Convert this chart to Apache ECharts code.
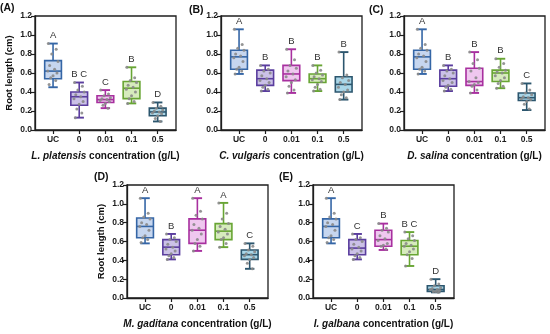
<!DOCTYPE html>
<html>
<head>
<meta charset="utf-8">
<script src="https://cdn.jsdelivr.net/npm/echarts@6/dist/echarts.min.js"></script>
<style>
html,body{margin:0;padding:0;background:#fff;}
#chart{width:550px;height:334px;}
</style>
</head>
<body>
<div id="chart"></div>
<script>
// ---- data ----
const categories = ['UC', '0', '0.01', '0.1', '0.5'];
const species = ['L. platensis', 'C. vulgaris', 'D. salina', 'M. gaditana', 'I. galbana'];
const panelTags = ['(A)', '(B)', '(C)', '(D)', '(E)'];
const yAxisTitle = 'Root length (cm)';

// box stats per category: [min, q1, median, q3, max]
const boxA = [[0.45,0.54,0.62,0.73,0.91],[0.13,0.26,0.35,0.40,0.50],[0.23,0.29,0.32,0.36,0.42],[0.28,0.33,0.44,0.51,0.66],[0.09,0.15,0.19,0.23,0.29]];
const boxB = [[0.59,0.64,0.77,0.84,1.06],[0.41,0.47,0.54,0.63,0.68],[0.39,0.52,0.59,0.68,0.85],[0.41,0.50,0.54,0.59,0.68],[0.32,0.40,0.48,0.56,0.82]];
const boxC = [[0.59,0.64,0.77,0.84,1.06],[0.41,0.46,0.54,0.63,0.68],[0.39,0.47,0.51,0.65,0.82],[0.44,0.51,0.60,0.63,0.75],[0.21,0.31,0.34,0.39,0.49]];
const boxD = [[0.58,0.64,0.76,0.85,1.06],[0.41,0.46,0.54,0.62,0.68],[0.50,0.58,0.72,0.84,1.06],[0.54,0.62,0.71,0.79,1.01],[0.31,0.41,0.46,0.51,0.58]];
const boxE = [[0.58,0.64,0.76,0.84,1.06],[0.41,0.46,0.53,0.62,0.68],[0.51,0.55,0.62,0.72,0.79],[0.34,0.46,0.55,0.61,0.70],[0.06,0.07,0.09,0.13,0.20]];

// significance letters
const lettersA = ['A', 'B C', 'C', 'B', 'D'];
const lettersB = ['A', 'B', 'B', 'B', 'B'];
const lettersC = ['A', 'B', 'B', 'B', 'C'];
const lettersD = ['A', 'B', 'A', 'A', 'C'];
const lettersE = ['A', 'C', 'B', 'B C', 'D'];

// individual observations
const ucPoints = [1.06,0.90,0.86,0.84,0.80,0.78,0.76,0.72,0.66,0.64,0.62,0.59];
const zeroPoints = [0.68,0.64,0.62,0.60,0.57,0.54,0.52,0.50,0.47,0.45,0.43,0.41];
const dotsA = [
  [0.91,0.85,0.80,0.72,0.68,0.64,0.62,0.60,0.57,0.55,0.52,0.48],
  [0.50,0.46,0.42,0.40,0.37,0.35,0.33,0.30,0.27,0.22,0.18,0.13],
  [0.42,0.38,0.36,0.34,0.33,0.32,0.31,0.30,0.28,0.26,0.23],
  [0.66,0.55,0.52,0.50,0.47,0.45,0.43,0.40,0.36,0.33,0.30,0.28],
  [0.29,0.25,0.23,0.21,0.20,0.19,0.18,0.17,0.15,0.12,0.09]
];
const dotsB = [
  ucPoints, zeroPoints,
  [0.85,0.74,0.68,0.65,0.62,0.59,0.56,0.53,0.50,0.46,0.42,0.39],
  [0.68,0.63,0.60,0.58,0.56,0.54,0.53,0.51,0.48,0.45,0.43,0.41],
  [0.82,0.58,0.55,0.52,0.50,0.48,0.45,0.42,0.40,0.37,0.34,0.32]
];
const dotsC = [
  ucPoints, zeroPoints,
  [0.82,0.74,0.70,0.65,0.62,0.55,0.51,0.50,0.48,0.46,0.42,0.39],
  [0.75,0.70,0.66,0.63,0.61,0.60,0.57,0.55,0.52,0.49,0.46,0.44],
  [0.49,0.42,0.39,0.37,0.35,0.34,0.33,0.32,0.30,0.27,0.22]
];
const dotsD = [
  ucPoints, zeroPoints,
  [1.06,0.92,0.88,0.84,0.78,0.74,0.72,0.68,0.62,0.58,0.55,0.50],
  [1.01,0.90,0.84,0.79,0.76,0.73,0.70,0.68,0.64,0.62,0.58,0.54],
  [0.58,0.55,0.51,0.49,0.47,0.46,0.45,0.43,0.41,0.37,0.31]
];
const dotsE = [
  ucPoints, zeroPoints,
  [0.79,0.74,0.72,0.70,0.66,0.63,0.61,0.58,0.56,0.55,0.52],
  [0.70,0.66,0.63,0.61,0.58,0.56,0.55,0.52,0.49,0.46,0.42,0.34],
  [0.20,0.15,0.13,0.11,0.10,0.09,0.09,0.08,0.07,0.07,0.06]
];

// ---- styling / layout ----
const strokeColors = ['#3566a6', '#5a3d9e', '#a8309f', '#68a534', '#2c566e'];
const fillColors   = ['#c6d6ef', '#cbc1e7', '#efc7ef', '#d6ebbd', '#a9d6e8'];
const jitter = [-0.18, 0.12, -0.05, 0.19, -0.13, 0.06, -0.2, 0.15, 0.0, -0.09, 0.1, -0.15];
const FONT = '"Liberation Sans", Arial, sans-serif';
const panels = [
  {box: boxA, letters: lettersA, dots: dotsA, left: 35,  top: 16,  height: 114, yName: true},
  {box: boxB, letters: lettersB, dots: dotsB, left: 221, top: 16,  height: 114, yName: false},
  {box: boxC, letters: lettersC, dots: dotsC, left: 404, top: 16,  height: 114, yName: false},
  {box: boxD, letters: lettersD, dots: dotsD, left: 127, top: 185, height: 113, yName: true},
  {box: boxE, letters: lettersE, dots: dotsE, left: 313, top: 185, height: 113, yName: false}
];
const PW = 141;
const tagPos = [[0, 3], [189, 5], [369, 5], [94, 172], [279, 172]];

const grids = [], xAxes = [], yAxes = [], series = [], graphics = [];
const axisColor = '#1e1e1e';

panels.forEach((p, k) => {
  grids.push({left: p.left, top: p.top, width: PW, height: p.height, show: true,
    borderColor: axisColor, borderWidth: 1.3, backgroundColor: 'transparent', containLabel: false});
  xAxes.push({
    gridIndex: k, type: 'value', min: -0.69, max: 4.70,
    splitLine: {show: false},
    axisLine: {show: true, onZero: false, lineStyle: {color: axisColor, width: 1.3}},
    axisTick: {show: true, customValues: [0,1,2,3,4], length: 4, lineStyle: {color: axisColor, width: 1.2}},
    axisLabel: {show: true, customValues: [0,1,2,3,4], formatter: v => categories[Math.round(v)],
      color: '#1a1a1a', fontFamily: FONT, fontWeight: 'bold', fontSize: 8.5, margin: 5},
    name: '{i|' + species[k] + '} concentration (g/L)',
    nameLocation: 'middle', nameGap: 21,
    nameTextStyle: {color: '#111', fontFamily: FONT, fontWeight: 'bold', fontSize: 10,
      rich: {i: {fontStyle: 'italic', fontWeight: 'bold', fontFamily: FONT, fontSize: 10, color: '#111'}}}
  });
  yAxes.push({
    gridIndex: k, type: 'value', min: 0, max: 1.2, interval: 0.2,
    splitLine: {show: false},
    axisLine: {show: true, onZero: false, lineStyle: {color: axisColor, width: 1.3}},
    axisTick: {show: true, length: 4, lineStyle: {color: axisColor, width: 1.2}},
    axisLabel: {formatter: v => v.toFixed(1), color: '#1a1a1a', fontFamily: FONT, fontWeight: 'bold', fontSize: 8.5, margin: 3},
    name: p.yName ? yAxisTitle : '', nameLocation: 'middle', nameGap: 21, nameRotate: 90,
    nameTextStyle: {color: '#111', fontFamily: FONT, fontWeight: 'bold', fontSize: 9.5}
  });
  const letters = p.letters;
  series.push({
    type: 'custom', xAxisIndex: k, yAxisIndex: k, z: 2,
    data: p.box.map((b, i) => [i, b[0], b[1], b[2], b[3], b[4]]),
    renderItem: function (params, api) {
      const i = api.value(0);
      const lo = api.coord([i, api.value(1)]);
      const q1 = api.coord([i, api.value(2)]);
      const md = api.coord([i, api.value(3)]);
      const q3 = api.coord([i, api.value(4)]);
      const hi = api.coord([i, api.value(5)]);
      const unit = api.size([1, 0])[0];
      const bw = unit * 0.64, cw = unit * 0.36;
      const s = strokeColors[i], f = fillColors[i];
      const lw = 1.6;
      const x = q1[0];
      return {type: 'group', children: [
        {type: 'line', shape: {x1: x, y1: hi[1], x2: x, y2: q3[1]}, style: {stroke: s, lineWidth: lw}},
        {type: 'line', shape: {x1: x, y1: lo[1], x2: x, y2: q1[1]}, style: {stroke: s, lineWidth: lw}},
        {type: 'line', shape: {x1: x - cw/2, y1: hi[1], x2: x + cw/2, y2: hi[1]}, style: {stroke: s, lineWidth: lw + 0.3}},
        {type: 'line', shape: {x1: x - cw/2, y1: lo[1], x2: x + cw/2, y2: lo[1]}, style: {stroke: s, lineWidth: lw + 0.3}},
        {type: 'rect', shape: {x: x - bw/2, y: q3[1], width: bw, height: q1[1] - q3[1]}, style: {fill: f, stroke: s, lineWidth: lw}},
        {type: 'line', shape: {x1: x - bw/2, y1: md[1], x2: x + bw/2, y2: md[1]}, style: {stroke: s, lineWidth: lw}},
        {type: 'text', x: x, y: hi[1] - 8, style: {text: letters[params.dataIndex], textAlign: 'center',
          textVerticalAlign: 'middle', font: '9.5px ' + FONT, fill: '#333'}}
      ]};
    }
  });
  const pts = [];
  p.dots.forEach((arr, i) => arr.forEach((v, j) => pts.push([i + jitter[j % jitter.length], v])));
  series.push({
    type: 'scatter', xAxisIndex: k, yAxisIndex: k, z: 3, data: pts,
    symbolSize: 3, itemStyle: {color: '#8a8a8a', opacity: 0.9}, silent: true
  });
  graphics.push({type: 'text', left: tagPos[k][0], top: tagPos[k][1],
    style: {text: panelTags[k], font: 'bold 10.5px ' + FONT, fill: '#111'}});
});

const chart = echarts.init(document.getElementById('chart'), null, {renderer: 'canvas'});
chart.setOption({
  animation: false,
  backgroundColor: '#fff',
  grid: grids, xAxis: xAxes, yAxis: yAxes, series: series, graphic: graphics
});
</script>
</body>
</html>
